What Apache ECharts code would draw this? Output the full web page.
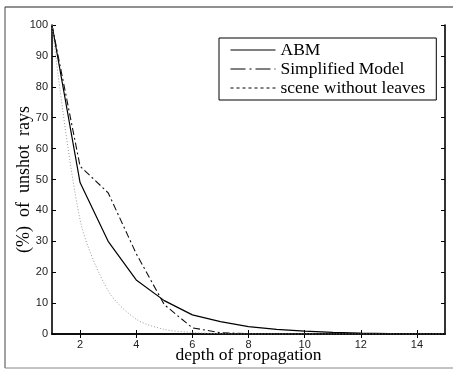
<!DOCTYPE html>
<html>
<head>
<meta charset="utf-8">
<script src="https://cdn.jsdelivr.net/npm/echarts@6/dist/echarts.min.js"></script>
<style>
  html, body { margin: 0; padding: 0; background: #fff; }
  #chart { width: 453px; height: 378px; }
</style>
</head>
<body>
<div id="chart"></div>
<script>
const depth = [1, 2, 3, 4, 5, 6, 7, 8, 9, 10, 11, 12, 13, 14, 15]
const abm = [100, 49, 30, 17.5, 10.8, 6.2, 4, 2.4, 1.5, 0.9, 0.5, 0.3, 0.15, 0.1, 0.05]
const simplified = [100, 54.3, 45.7, 26, 9.5, 2, 0.4, 0.1, 0, 0, 0, 0, 0, 0, 0]
const noLeaves = [100, 37, 14, 4.8, 1.5, 0.5, 0.1, 0, 0, 0, 0, 0, 0, 0, 0]
const xTicks = [2, 4, 6, 8, 10, 12, 14]

const pairs = (ys) => depth.map((x, i) => [x, ys[i]])

const chart = echarts.init(document.getElementById('chart'))
const serif = 'Liberation Serif'
const sans = 'Liberation Sans'

const option = {
  animation: false,
  backgroundColor: '#fff',
  grid: { left: 52, right: 8, top: 25, bottom: 44 },
  graphic: [
    { type: 'line', shape: { x1: 5, y1: 7, x2: 453, y2: 7 }, style: { stroke: '#222', lineWidth: 1 } },
    { type: 'line', shape: { x1: 5, y1: 7, x2: 5, y2: 368 }, style: { stroke: '#444', lineWidth: 1 } },
    { type: 'line', shape: { x1: 5, y1: 368, x2: 453, y2: 368 }, style: { stroke: '#888', lineWidth: 1 } }
  ],
  legend: {
    orient: 'vertical',
    left: 219,
    top: 38,
    padding: [3, 11, 3, 11],
    itemWidth: 45,
    itemHeight: 14,
    itemGap: 1,
    borderColor: '#000',
    borderWidth: 1,
    backgroundColor: '#fff',
    textStyle: { fontFamily: serif, fontSize: 17.5, color: '#000' },
    itemStyle: { opacity: 0 },
    data: [
      { name: 'ABM', lineStyle: { color: '#000', width: 1, type: 'solid' } },
      { name: 'Simplified Model', lineStyle: { color: '#000', width: 1, type: [15, 4, 2, 4] } },
      { name: 'scene without leaves', lineStyle: { color: '#000', width: 1, type: [3, 3] } }
    ]
  },
  xAxis: [
    {
      type: 'value',
      min: 1,
      max: 15,
      name: 'depth of propagation',
      nameLocation: 'middle',
      nameGap: 12,
      nameMoveOverlap: false,
      nameTextStyle: { fontFamily: serif, fontSize: 17.5, color: '#000', verticalAlign: 'top' },
      axisLine: { lineStyle: { color: '#000', width: 1.6 } },
      axisTick: { inside: true, length: 4, customValues: xTicks, lineStyle: { color: '#000' } },
      axisLabel: { customValues: xTicks, margin: 5, fontFamily: sans, fontSize: 11, color: '#222' },
      splitLine: { show: false }
    },
    {
      type: 'value',
      position: 'top',
      min: 1,
      max: 15,
      axisLine: { lineStyle: { color: '#000', width: 1.6 } },
      axisTick: { inside: true, length: 4, customValues: xTicks, lineStyle: { color: '#000' } },
      axisLabel: { show: false },
      splitLine: { show: false }
    }
  ],
  yAxis: [
    {
      type: 'value',
      min: 0,
      max: 100,
      interval: 10,
      name: '(%)  of  unshot  rays',
      nameLocation: 'middle',
      nameGap: 19,
      nameMoveOverlap: false,
      nameTextStyle: { fontFamily: serif, fontSize: 18, color: '#000' },
      axisLine: { show: true, lineStyle: { color: '#000', width: 1.6 } },
      axisTick: { show: true, inside: true, length: 4, lineStyle: { color: '#000' } },
      axisLabel: { margin: 4, fontFamily: sans, fontSize: 11, color: '#222' },
      splitLine: { show: false }
    },
    {
      type: 'value',
      position: 'right',
      min: 0,
      max: 100,
      interval: 10,
      axisLine: { show: true, lineStyle: { color: '#000', width: 1.6 } },
      axisTick: { show: true, inside: true, length: 4, lineStyle: { color: '#000' } },
      axisLabel: { show: false },
      splitLine: { show: false }
    }
  ],
  series: [
    {
      name: 'ABM',
      type: 'line',
      symbol: 'none',
      data: pairs(abm),
      lineStyle: { color: '#000', width: 1.2, type: 'solid' },
      itemStyle: { color: '#000' }
    },
    {
      name: 'Simplified Model',
      type: 'line',
      symbol: 'none',
      data: pairs(simplified),
      lineStyle: { color: '#111', width: 1.1, type: [7, 3, 2, 3] },
      itemStyle: { color: '#000' }
    },
    {
      name: 'scene without leaves',
      type: 'line',
      symbol: 'none',
      smooth: 0.3,
      data: pairs(noLeaves),
      lineStyle: { color: '#999', width: 1, type: [1, 2] },
      itemStyle: { color: '#000' }
    }
  ]
}

chart.setOption(option)
</script>
</body>
</html>
